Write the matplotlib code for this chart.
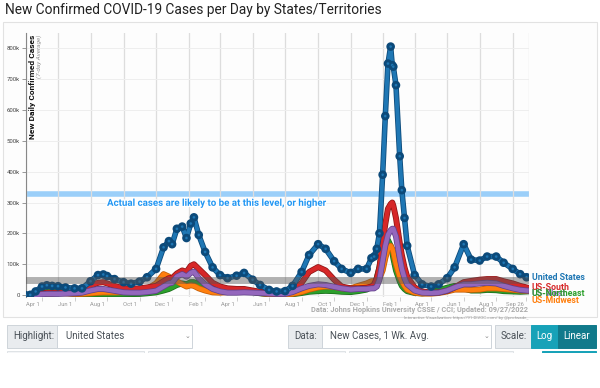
import matplotlib
matplotlib.use("Agg")
import matplotlib.pyplot as plt
import matplotlib.dates as mdates
import matplotlib.patheffects as pe
from matplotlib.patches import Rectangle
from matplotlib.transforms import ScaledTranslation
import numpy as np
import datetime as dt

# ---------------- data (thousands of new cases per day, 7-day avg) ----------------
dates = ["2020-03-01","2020-03-10","2020-03-20","2020-04-01","2020-04-10","2020-04-20","2020-05-01","2020-05-15",
         "2020-06-01","2020-06-15","2020-07-01","2020-07-15","2020-07-25","2020-08-01","2020-08-15","2020-09-01",
         "2020-09-15","2020-10-01","2020-10-15","2020-11-01","2020-11-15","2020-11-25","2020-12-01","2020-12-10",
         "2020-12-20","2020-12-28","2021-01-05","2021-01-11","2021-01-20","2021-02-01","2021-02-15","2021-03-01",
         "2021-03-15","2021-04-01","2021-04-15","2021-05-01","2021-05-15","2021-06-01","2021-06-15","2021-07-01",
         "2021-07-15","2021-08-01","2021-08-15","2021-09-01","2021-09-15","2021-10-01","2021-10-15","2021-11-01",
         "2021-11-15","2021-12-01","2021-12-10","2021-12-15","2021-12-20","2021-12-25","2021-12-31","2022-01-05",
         "2022-01-10","2022-01-15","2022-01-18","2022-01-20","2022-01-25","2022-02-01","2022-02-05","2022-02-10",
         "2022-02-15","2022-03-01","2022-03-15","2022-04-01","2022-04-15","2022-05-01","2022-05-15","2022-06-01",
         "2022-06-15","2022-07-01","2022-07-15","2022-08-01","2022-08-15","2022-09-01","2022-09-15","2022-09-27"]

us = [0, 1, 12, 28, 32, 30, 29, 25,
      22, 22, 45, 65, 67, 62, 52, 42,
      37, 44, 58, 85, 155, 175, 165, 215,
      222, 185, 232, 252, 195, 140, 90, 65,
      55, 63, 72, 50, 33, 17, 12, 13,
      30, 75, 130, 165, 150, 110, 85, 72,
      85, 85, 120, 125, 150, 200, 390, 580,
      750, 805, 745, 740, 680, 450, 340, 250,
      160, 65, 35, 28, 35, 55, 90, 165,
      115, 112, 125, 125, 105, 85, 68, 58]

south = [0, 0.5, 2, 6, 8, 8, 8, 9,
         10, 15, 30, 40, 42, 38, 30, 22,
         20, 22, 25, 30, 45, 55, 55, 70,
         80, 75, 95, 100, 85, 65, 40, 28,
         22, 20, 20, 15, 11, 7, 6, 7,
         15, 40, 75, 91, 80, 50, 28, 22,
         22, 24, 28, 35, 55, 90, 170, 230,
         280, 295, 300, 290, 250, 170, 130, 90,
         60, 25, 12, 8, 9, 14, 25, 42,
         46, 50, 52, 52, 45, 38, 30, 25]

northeast = [0, 1, 5, 15, 20, 17, 13, 8,
             4, 3, 2.5, 3, 3, 3, 3, 3,
             3.5, 4, 6, 9, 15, 20, 25, 33,
             38, 35, 42, 42, 35, 28, 20, 15,
             15, 17, 16, 10, 6, 3, 1.5, 1.5,
             3, 7, 11, 13, 14, 13, 11, 10,
             13, 18, 30, 38, 55, 90, 140, 170,
             178, 160, 140, 120, 80, 45, 30, 20,
             13, 7, 6, 9, 16, 24, 30, 22,
             15, 15, 17, 16, 13, 12, 11, 12]

midwest = [0, 0.3, 1, 4, 5, 5, 7, 6,
           4, 4, 6, 8, 9, 9, 9, 10,
           11, 14, 20, 38, 68, 60, 50, 45,
           35, 28, 32, 30, 22, 15, 9, 8,
           10, 15, 18, 12, 7, 3, 2, 2,
           4, 10, 18, 25, 28, 27, 22, 22,
           30, 38, 45, 45, 48, 55, 80, 120,
           150, 160, 150, 140, 100, 60, 45, 30,
           18, 8, 5, 5, 7, 12, 18, 18,
           17, 18, 22, 22, 20, 17, 15, 14]

west = [0, 0.3, 1, 3, 4, 4, 4, 5,
        6, 8, 15, 20, 20, 18, 14, 9,
        8, 8, 10, 14, 28, 38, 40, 60,
        68, 60, 72, 76, 55, 35, 20, 12,
        8, 8, 9, 8, 7, 5, 4, 4,
        10, 22, 30, 35, 33, 27, 22, 18,
        20, 20, 22, 22, 28, 50, 110, 160,
        195, 210, 215, 215, 190, 120, 85, 55,
        35, 15, 8, 7, 8, 15, 25, 35,
        35, 38, 40, 38, 30, 22, 17, 15]

series_names = ["US-Northeast", "US-Midwest", "US-South", "US-West", "United States"]
series_colors = ["#2ca02c", "#ff7f0e", "#d62728", "#9467bd", "#1f77b4"]
series_edges = ["#1b6e1b", "#c45d05", "#8e1516", "#62418a", "#0c4a7a"]

x_tick_dates = ["2020-04-01","2020-06-01","2020-08-01","2020-10-01","2020-12-01","2021-02-01","2021-04-01",
                "2021-06-01","2021-08-01","2021-10-01","2021-12-01","2022-02-01","2022-04-01","2022-06-01",
                "2022-08-01","2022-09-26"]
x_tick_labels = ["Apr 1","Jun 1","Aug 1","Oct 1","Dec 1","Feb 1","Apr 1","Jun 1","Aug 1","Oct 1","Dec 1",
                 "Feb 1","Apr 1","Jun 1","Aug 1","Sep 26"]
y_ticks = [0, 100, 200, 300, 400, 500, 600, 700, 800]
y_tick_labels = ["0", "100k", "200k", "300k", "400k", "500k", "600k", "700k", "800k"]

underreport_level = 327   # light blue band
gray_level = 50           # gray band

# ---------------- figure ----------------
W, H = 600, 388
fig = plt.figure(figsize=(W/100, H/100), dpi=100)
fig.patch.set_facecolor("white")

def fx(x): return x / W
def fy(y): return 1 - y / H

# chart container
fig.patches.append(Rectangle((fx(3), fy(317)), fx(594), (317-22)/H, transform=fig.transFigure,
                             facecolor="#fdfdfd", edgecolor="#e2e2e2", lw=0.8, zorder=-5))

fig.text(fx(5), fy(10), "New Confirmed COVID-19 Cases per Day by States/Territories",
         fontsize=9.95, family="Roboto", color="#222222", va="center", ha="left")

ax = fig.add_axes([fx(25.5), fy(297), (528.7-25.5)/W, (297-33)/H])
ax.set_facecolor("none")
ax.set_zorder(2)

d = [dt.datetime.strptime(s, "%Y-%m-%d") for s in dates]
dn = mdates.date2num(d)
ax.set_xlim(mdates.date2num(dt.datetime(2020, 3, 1)), mdates.date2num(dt.datetime(2022, 10, 1)))
ax.set_ylim(-6, 849)

# grid
ax.xaxis.set_minor_locator(mdates.MonthLocator())
ax.grid(which="minor", axis="x", color="#dddddd", lw=0.9, zorder=0)
ax.set_yticks(y_ticks)
ax.set_yticklabels(y_tick_labels, fontsize=4.3, family="Roboto", color="#444444")
ax.grid(which="major", axis="y", color="#eeeeee", lw=0.7, zorder=0)
ax.tick_params(axis="y", length=3, width=0.6, color="#888888", pad=1)
ax.tick_params(axis="x", which="minor", length=0)

xt = mdates.date2num([dt.datetime.strptime(s, "%Y-%m-%d") for s in x_tick_dates])
ax.set_xticks(xt)
ax.set_xticklabels(x_tick_labels, fontsize=4.2, family="Roboto", color="#999999", ha="right")
ax.tick_params(axis="x", which="major", length=3, width=0.5, color="#bbbbbb", pad=0.5)
for lbl in ax.get_xticklabels():
    lbl.set_transform(lbl.get_transform() + ScaledTranslation(-1.5/72, 0, fig.dpi_scale_trans))

for s in ["top", "right", "bottom"]:
    ax.spines[s].set_visible(False)
ax.spines["left"].set_color("#888888")
ax.spines["left"].set_linewidth(0.8)

# bands
ax.axhline(underreport_level, color="#90caf9", lw=4, alpha=0.9, zorder=1)

vals = [northeast, midwest, south, west, us]
for name, v, c, ec in zip(series_names, vals, series_colors, series_edges):
    if name == "United States":
        ax.plot(dn, v, color=c, lw=2.8, marker="o", ms=2.2, mfc=c, mec=ec, mew=0.3, zorder=6,
                path_effects=[pe.Stroke(linewidth=4.0, foreground=ec), pe.Normal()])
    else:
        ax.plot(dn, v, color=c, lw=3.2, zorder=4,
                path_effects=[pe.Stroke(linewidth=4.3, foreground=ec), pe.Normal()])

ax.axhline(gray_level, color="#555555", lw=5, alpha=0.45, zorder=7)

ax.text(0.162, 0.356, "Actual cases are likely to be at this level, or higher", transform=ax.transAxes,
        fontsize=7.0, family="Roboto", weight="bold", color="#2196f3", ha="left", va="center", zorder=8,
        path_effects=[pe.withStroke(linewidth=2, foreground="white")])

# y-axis title inside plot
fig.text(fx(32), fy(35), "New Daily Confirmed Cases", rotation=90, fontsize=6, family="Roboto",
         weight="bold", color="#111111", ha="center", va="top", zorder=10)
fig.text(fx(39.5), fy(35), "(7-day Average)", rotation=90, fontsize=4.6, family="Roboto",
         style="italic", color="#999999", ha="center", va="top", zorder=10)

# end labels
end_labels = [("United States", 277, "#1f77b4"), ("US-South", 288, "#d62728"), ("US-West", 293, "#9467bd"),
              ("US-Northeast", 294, "#2ca02c"), ("US-Midwest", 300.5, "#ff7f0e")]
for t, y, c in end_labels:
    fig.text(fx(532), fy(y), t, fontsize=6.3, family="Roboto", weight="bold", color=c,
             ha="left", va="center", zorder=10)

# source
fig.text(fx(528), fy(310), "Data: Johns Hopkins University CSSE / CCI; Updated: 09/27/2022",
         fontsize=5.3, family="Roboto", weight="bold", color="#aaaaaa", ha="right", va="center")
fig.text(fx(528), fy(318), "Interactive Visualization: https://91-DIVOC.com/ by @profwade_",
         fontsize=3.2, family="Roboto", color="#999999", ha="right", va="center")

# ---------------- controls ----------------
def box(x0, y0, x1, y1, fc, ec="#ced4da"):
    fig.patches.append(Rectangle((fx(x0), fy(y1)), (x1-x0)/W, (y1-y0)/H, transform=fig.transFigure,
                                 facecolor=fc, edgecolor=ec, lw=0.7, zorder=1))

def label(x, y, t, color="#495057", size=7, ha="left", weight="normal"):
    fig.text(fx(x), fy(y), t, fontsize=size, family=["Roboto", "DejaVu Sans"], color=color, ha=ha,
             va="center", weight=weight, zorder=3)

row_top, row_bot = 324.5, 347.5
ym = (row_top + row_bot) / 2
box(6.5, row_top, 57, row_bot, "#e9ecef")
box(57, row_top, 192, row_bot, "white")
label(13, ym, "Highlight:")
label(66, ym, "United States")
label(187, ym, "\u2304", size=5, color="#888888", ha="center")

box(288, row_top, 322, row_bot, "#e9ecef")
box(322, row_top, 491, row_bot, "white")
label(294, ym, "Data:")
label(330, ym, "New Cases, 1 Wk. Avg.")
label(486, ym, "\u2304", size=5, color="#888888", ha="center")

box(495, row_top, 531, row_bot, "#e9ecef")
label(501, ym, "Scale:")
box(531, row_top, 558, row_bot, "#17a2b8", ec="#17a2b8")
box(558, row_top, 596, row_bot, "#117a8b", ec="#117a8b")
label(544.5, ym, "Log", color="white", ha="center")
label(577, ym, "Linear", color="white", ha="center")

# second row (cut off)
box(6.5, 350.5, 144, 360, "#f4f5f7", ec="#dfe3e6")
box(148, 350.5, 345, 360, "#f4f5f7", ec="#dfe3e6")
box(349, 350.5, 513, 360, "#f4f5f7", ec="#dfe3e6")
box(542, 350.5, 596, 360, "#17a2b8", ec="#17a2b8")
fig.patches.append(Rectangle((0, 0), 1, fy(352.5), transform=fig.transFigure,
                             facecolor="white", edgecolor="none", zorder=2))

fig.savefig("out.png", dpi=100, facecolor="white")
